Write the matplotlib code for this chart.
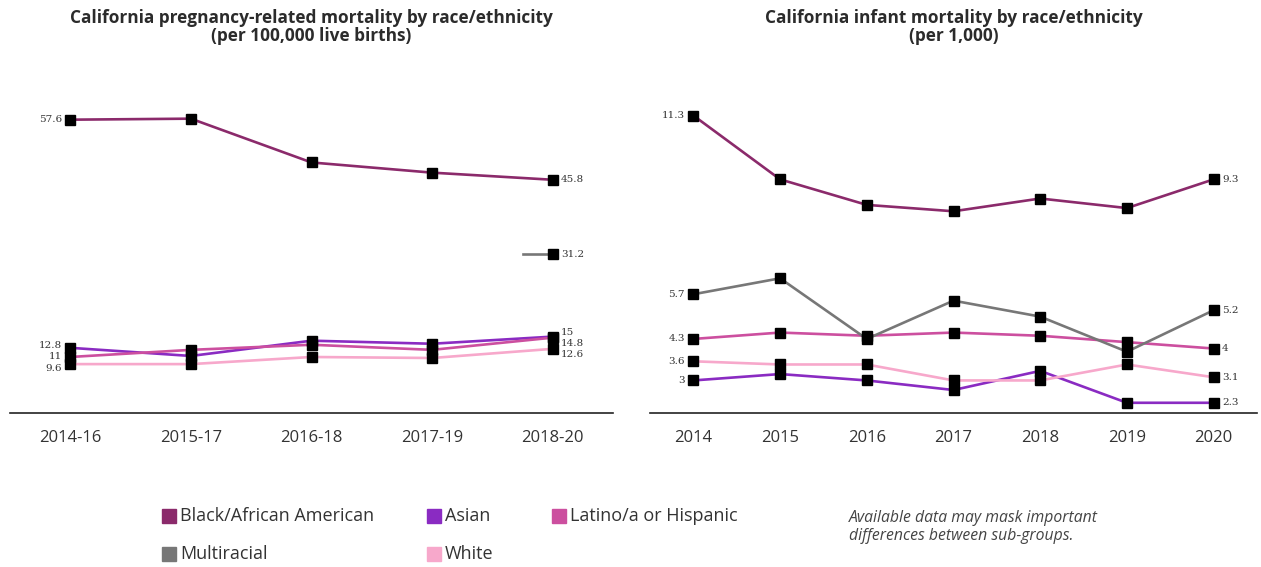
#!/usr/bin/env python

import matplotlib.pyplot as plt
from matplotlib.patches import Rectangle
import numpy as np

nan = np.nan

# pregnancy-related mortality, per 100,000 live births
periods = ["2014-16", "2015-17", "2016-18", "2017-19", "2018-20"]
preg_black = [57.6, 57.8, 49.2, 47.2, 45.8]
preg_asian = [12.8, 11.2, 14.2, 13.6, 15.0]
preg_latino = [11.0, 12.4, 13.4, 12.4, 14.8]
preg_multi = [nan, nan, nan, nan, 31.2]
preg_white = [9.6, 9.6, 11.0, 10.8, 12.6]

# infant mortality, per 1,000
years = ["2014", "2015", "2016", "2017", "2018", "2019", "2020"]
inf_black = [11.3, 9.3, 8.5, 8.3, 8.7, 8.4, 9.3]
inf_asian = [3.0, 3.2, 3.0, 2.7, 3.3, 2.3, 2.3]
inf_latino = [4.3, 4.5, 4.4, 4.5, 4.4, 4.2, 4.0]
inf_multi = [5.7, 6.2, 4.3, 5.5, 5.0, 3.9, 5.2]
inf_white = [3.6, 3.5, 3.5, 3.0, 3.0, 3.5, 3.1]

groups = ["Black/African American", "Asian", "Latino/a or Hispanic", "Multiracial", "White"]
colors = ["#8b2a6b", "#8a2bc2", "#cc4f9f", "#777777", "#f7a8cb"]

FONT = "Open Sans"


def fmt(v):
    return f"{v:g}"


def draw_panel(ax, cats, series, ylim, offsets_first, offsets_last, stub=None):
    x = np.arange(len(cats))
    for k, (vals, col) in enumerate(zip(series, colors)):
        vals = np.array(vals, dtype=float)
        ax.plot(x, vals, color=col, lw=1.9, zorder=2)
        if stub is not None and k == stub:
            # series with a single value: short lead-in segment
            i = int(np.where(~np.isnan(vals))[0][0])
            ax.plot([x[i] - 0.25, x[i]], [vals[i], vals[i]], color=col, lw=1.9, zorder=2)
    for k, vals in enumerate(series):
        vals = np.array(vals, dtype=float)
        ax.plot(x, vals, ls="none", marker="s", ms=7, color="black", zorder=3)
        ok = np.where(~np.isnan(vals))[0]
        i0, i1 = ok[0], ok[-1]
        if i0 != i1 and offsets_first[k] is not None:
            ax.annotate(fmt(vals[i0]), (x[i0], vals[i0]), xytext=(-6, offsets_first[k]),
                        textcoords="offset points", ha="right", va="center",
                        fontsize=7.5, color="#333333", family="DejaVu Serif")
        ax.annotate(fmt(vals[i1]), (x[i1], vals[i1]), xytext=(6, offsets_last[k]),
                    textcoords="offset points", ha="left", va="center",
                    fontsize=7.5, color="#333333", family="DejaVu Serif")
    ax.set_xlim(-0.5, len(cats) - 0.5)
    ax.set_ylim(*ylim)
    ax.set_xticks(x)
    ax.set_xticklabels(cats, fontsize=12, color="#333333", family=FONT)
    ax.tick_params(axis="x", length=0, pad=12)
    ax.set_yticks([])
    for s in ["left", "right", "top"]:
        ax.spines[s].set_visible(False)
    ax.spines["bottom"].set_color("#222222")
    ax.spines["bottom"].set_linewidth(1.2)


def main():
    fig = plt.figure(figsize=(12.61, 5.67), dpi=100)
    ax1 = fig.add_axes([10 / 1261, 1 - 413 / 567, 603 / 1261, 331 / 567])
    ax2 = fig.add_axes([650 / 1261, 1 - 413 / 567, 607 / 1261, 331 / 567])

    draw_panel(ax1, periods,
               [preg_black, preg_asian, preg_latino, preg_multi, preg_white],
               (0, 65),
               [0, 2, 0, None, -3], [0, 3, -4.5, 0, -4], stub=3)
    draw_panel(ax2, years,
               [inf_black, inf_asian, inf_latino, inf_multi, inf_white],
               (1.98, 12.35),
               [0, 0, 0, 0, 0], [0, 0, 0, 0, 0])

    fig.text(311 / 1261, 1 - 27 / 567,
             "California pregnancy-related mortality by race/ethnicity\n(per 100,000 live births)",
             ha="center", va="center", fontsize=12.4, fontweight="bold", color="#2b2b2b",
             family=FONT, linespacing=1.05)
    fig.text(954 / 1261, 1 - 27 / 567,
             "California infant mortality by race/ethnicity\n(per 1,000)",
             ha="center", va="center", fontsize=12.4, fontweight="bold", color="#2b2b2b",
             family=FONT, linespacing=1.05)

    # legend, laid out row by row
    pos = [(162, 516), (427, 516), (552, 516), (162, 554), (427, 554)]
    for name, col, (px, py) in zip(groups, colors, pos):
        fig.patches.append(Rectangle((px / 1261, 1 - (py + 7) / 567), 14 / 1261, 14 / 567,
                                     transform=fig.transFigure, color=col))
        fig.text((px + 18) / 1261, 1 - py / 567, name, ha="left", va="center",
                 fontsize=13, color="#333333", family=FONT)

    fig.text(849 / 1261, 1 - 527 / 567,
             "Available data may mask important\ndifferences between sub-groups.",
             ha="left", va="center", fontsize=11.3, style="italic", color="#444444",
             family=FONT, linespacing=1.2)

    fig.savefig("out.png", dpi=100)


if __name__ == "__main__":
    main()
